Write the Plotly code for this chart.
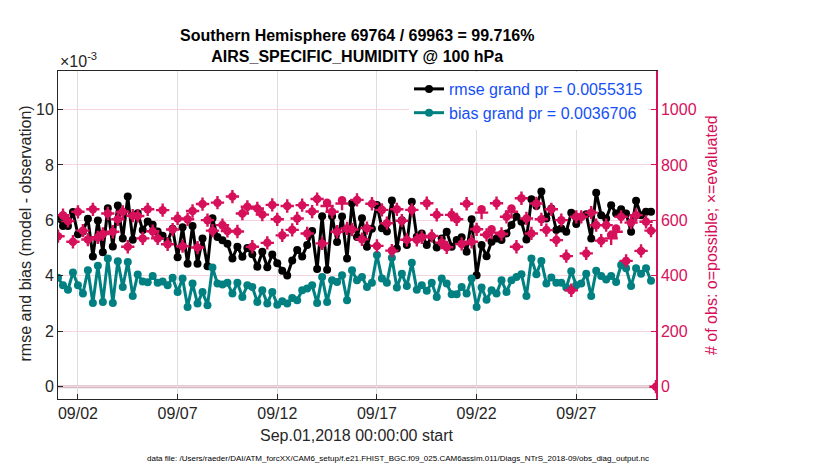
import pandas as pd
import plotly.graph_objects as go

# 6-hourly analysis times, Sep 1 - Sep 30 2018 (obs counts run one bin further)
times = pd.date_range("2018-09-01 00:00", periods=120, freq="6h")
obs_times = pd.date_range("2018-09-01 00:00", periods=121, freq="6h")

# rmse and bias in units of 1e-3
rmse = [
    6.07, 5.80, 5.80, 6.30, 5.50, 5.60, 6.06, 4.70, 6.00, 4.85,
    6.44, 5.06, 6.54, 5.35, 6.86, 5.30, 6.26, 5.65, 5.96, 5.84,
    5.60, 5.45, 5.25, 5.70, 4.67, 5.75, 4.44, 5.80, 4.44, 5.35,
    4.35, 6.08, 5.40, 5.28, 5.16, 4.63, 5.05, 4.69, 5.00, 4.78,
    4.33, 4.87, 4.31, 4.77, 4.45, 4.18, 4.01, 4.55, 4.93, 4.70,
    5.11, 5.62, 4.25, 6.15, 4.22, 6.15, 5.22, 6.14, 4.63, 6.62,
    5.40, 6.08, 5.05, 5.70, 6.56, 5.72, 5.60, 6.72, 4.99, 6.01,
    5.11, 6.67, 5.41, 5.53, 5.11, 5.41, 5.02, 5.35, 5.59, 5.05,
    5.29, 5.39, 4.87, 6.04, 4.02, 5.11, 4.71, 5.23, 5.35, 5.29,
    5.53, 5.83, 6.13, 5.95, 5.31, 6.76, 6.52, 7.04, 6.07, 6.43,
    5.65, 5.71, 5.59, 6.28, 5.87, 6.13, 6.22, 5.35, 7.00, 6.19,
    6.07, 6.55, 6.25, 6.40, 6.25, 5.59, 6.71, 6.19, 6.31, 6.31,
]
bias = [
    3.93, 3.66, 3.50, 4.12, 3.66, 3.36, 4.20, 3.02, 4.36, 3.06,
    4.63, 3.02, 4.53, 3.60, 4.50, 3.27, 4.05, 3.80, 3.77, 3.99,
    3.75, 3.80, 3.66, 3.93, 3.42, 3.90, 2.88, 3.72, 3.00, 3.42,
    2.94, 4.30, 3.72, 3.69, 3.75, 3.36, 3.75, 3.24, 3.66, 3.60,
    3.06, 3.48, 3.00, 3.42, 2.96, 3.08, 3.00, 3.20, 3.12, 3.48,
    3.54, 3.66, 3.02, 3.96, 3.06, 3.84, 3.78, 4.02, 3.12, 4.20,
    3.84, 3.96, 3.60, 3.75, 4.75, 3.90, 3.75, 4.65, 3.58, 4.08,
    3.63, 4.47, 3.50, 3.66, 3.46, 3.75, 3.24, 3.90, 3.72, 3.34,
    3.34, 3.60, 3.36, 3.90, 2.88, 3.58, 3.14, 3.48, 3.36, 3.84,
    3.42, 3.84, 3.96, 4.06, 3.27, 4.63, 4.06, 4.54, 3.72, 3.94,
    3.75, 3.75, 3.58, 4.17, 3.66, 3.72, 4.08, 3.27, 4.18, 3.99,
    3.87, 3.99, 3.78, 4.39, 4.27, 3.63, 4.27, 4.08, 4.27, 3.82,
]

# number of observations per bin
obs_possible = [
    543, 619, 598, 523, 631, 563, 531, 640, 539, 551,
    625, 559, 604, 631, 505, 617, 616, 535, 640, 561,
    535, 637, 514, 567, 607, 507, 604, 634, 502, 659,
    601, 563, 664, 583, 562, 686, 560, 625, 649, 505,
    643, 621, 519, 656, 604, 546, 652, 566, 607, 655,
    553, 632, 677, 517, 664, 631, 559, 673, 571, 567,
    674, 532, 572, 660, 508, 638, 590, 491, 640, 599,
    530, 638, 530, 539, 662, 544, 620, 520, 503, 620,
    604, 515, 660, 523, 568, 640, 548, 568, 662, 551,
    613, 643, 505, 680, 607, 553, 661, 604, 565, 640,
    529, 601, 471, 348, 613, 613, 481, 628, 583, 527,
    583, 547, 571, 613, 454, 592, 619, 490, 595, 563,
    0,
]
obs_evaluated = [
    543, 619, 598, 523, 631, 563, 531, 640, 539, 551,
    625, 559, 604, 631, 505, 617, 616, 535, 640, 561,
    535, 637, 514, 567, 607, 507, 604, 634, 502, 659,
    601, 563, 664, 583, 562, 686, 560, 625, 649, 505,
    643, 621, 519, 656, 604, 546, 652, 566, 607, 655,
    553, 632, 677, 517, 652, 631, 559, 661, 571, 567,
    674, 532, 572, 660, 508, 638, 590, 491, 640, 599,
    530, 638, 530, 539, 662, 544, 620, 520, 503, 620,
    604, 515, 660, 523, 568, 628, 548, 556, 662, 551,
    613, 631, 505, 680, 607, 553, 661, 604, 565, 640,
    529, 601, 471, 348, 613, 613, 481, 628, 583, 527,
    583, 535, 559, 613, 454, 592, 619, 490, 595, 563,
    0,
]

tick_days = ["2018-09-02", "2018-09-07", "2018-09-12", "2018-09-17", "2018-09-22", "2018-09-27"]
tick_text = ["09/02", "09/07", "09/12", "09/17", "09/22", "09/27"]

FONT = "Liberation Sans, Arial, Helvetica, sans-serif"
MAGENTA = "#d6105a"
TEAL = "#008080"
AXIS_TXT = "#262626"

fig = go.Figure()

fig.add_trace(
    go.Scatter(
        x=times, y=rmse, mode="lines+markers", name="rmse grand pr = 0.0055315",
        line=dict(color="black", width=3), marker=dict(color="black", size=8),
    )
)
fig.add_trace(
    go.Scatter(
        x=times, y=bias, mode="lines+markers", name="bias grand pr = 0.0036706",
        line=dict(color=TEAL, width=3), marker=dict(color=TEAL, size=8),
    )
)
fig.add_trace(
    go.Scatter(
        x=obs_times, y=obs_possible, mode="markers", yaxis="y2", showlegend=False,
        marker=dict(symbol="circle", size=8.5, color=MAGENTA, line=dict(width=0)),
    )
)
fig.add_trace(
    go.Scatter(
        x=obs_times, y=obs_evaluated, mode="markers", yaxis="y2", showlegend=False,
        marker=dict(symbol="cross-thin-open", size=9.5, color=MAGENTA, line=dict(width=2.4, color=MAGENTA)),
    )
)

fig.add_shape(
    type="line", xref="paper", yref="y", x0=0, x1=1, y0=0, y1=0,
    line=dict(color="#d3b9c1", width=3), layer="between",
)

# the page body adds an 8 px offset, so margins are shifted by that amount
fig.update_layout(
    width=830, height=470,
    margin=dict(l=50, r=182, t=63, b=79),
    plot_bgcolor="white", paper_bgcolor="white",
    font=dict(family=FONT, size=16, color=AXIS_TXT),
    xaxis=dict(
        type="date", range=["2018-09-01 00:00", "2018-10-01 00:00"],
        tickvals=tick_days, ticktext=tick_text,
        showgrid=True, gridcolor="#dedede", gridwidth=1,
        ticks="inside", ticklen=5, tickcolor=AXIS_TXT,
        showline=True, linecolor=AXIS_TXT, linewidth=1, mirror=True,
        tickfont=dict(size=16, color=AXIS_TXT),
    ),
    yaxis=dict(
        range=[-0.443, 11.39], tickvals=[0, 2, 4, 6, 8, 10],
        showgrid=True, gridcolor="#f4d4df", gridwidth=1, zeroline=False,
        ticks="inside", ticklen=5, tickcolor=AXIS_TXT,
        showline=True, linecolor=AXIS_TXT, linewidth=1,
        tickfont=dict(size=16, color=AXIS_TXT),
    ),
    yaxis2=dict(
        overlaying="y", side="right", range=[-44.3, 1139],
        tickvals=[0, 200, 400, 600, 800, 1000],
        showgrid=False, zeroline=False,
        ticks="inside", ticklen=5, tickcolor=MAGENTA,
        showline=True, linecolor=MAGENTA, linewidth=1.5,
        tickfont=dict(size=16, color=MAGENTA),
    ),
    legend=dict(
        x=0.587, y=0.997, xanchor="left", yanchor="top",
        bgcolor="white", font=dict(size=16, color="#1450f5"),
        tracegroupgap=0, itemwidth=30,
    ),
)

fig.add_annotation(
    text="<b>Southern Hemisphere 69764 / 69963 = 99.716%<br>AIRS_SPECIFIC_HUMIDITY @ 100 hPa</b>",
    xref="paper", yref="paper", x=0.5, y=1.076, xanchor="center", yanchor="middle",
    showarrow=False, font=dict(size=16, color="black"),
)
fig.add_annotation(
    text="×10<sup>-3</sup>", xref="paper", yref="paper", x=0.0, y=1.034,
    xanchor="left", yanchor="middle", showarrow=False, font=dict(size=16, color=AXIS_TXT),
)
fig.add_annotation(
    text="rmse and bias (model - observation)", xref="paper", yref="paper",
    x=-0.055, y=0.505, xanchor="center", yanchor="middle", textangle=-90,
    showarrow=False, font=dict(size=16, color=AXIS_TXT),
)
fig.add_annotation(
    text="# of obs: o=possible; ×=evaluated", xref="paper", yref="paper",
    x=1.092, y=0.5, xanchor="center", yanchor="middle", textangle=-90,
    showarrow=False, font=dict(size=16, color=MAGENTA),
)
fig.add_annotation(
    text="Sep.01,2018 00:00:00 start", xref="paper", yref="paper",
    x=0.5, y=-0.11, xanchor="center", yanchor="middle",
    showarrow=False, font=dict(size=16, color=AXIS_TXT),
)
fig.add_annotation(
    text="data file: /Users/raeder/DAI/ATM_forcXX/CAM6_setup/f.e21.FHIST_BGC.f09_025.CAM6assim.011/Diags_NTrS_2018-09/obs_diag_output.nc",
    xref="paper", yref="paper", x=0.569, y=-0.18, xanchor="center", yanchor="middle",
    showarrow=False, font=dict(size=8, color="black"),
)

fig.write_html("out.html")
